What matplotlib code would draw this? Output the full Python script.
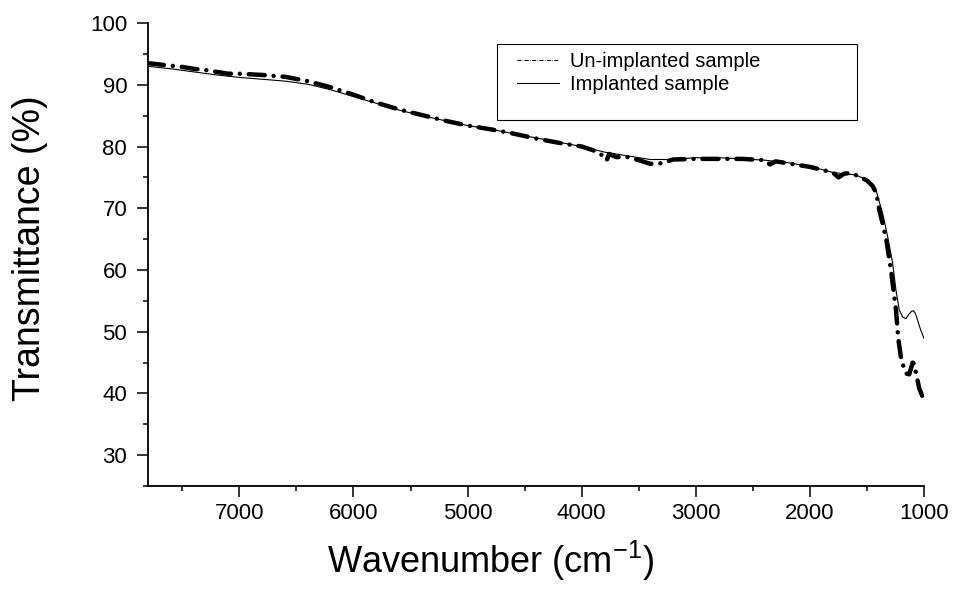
import matplotlib
matplotlib.use("Agg")
import matplotlib.pyplot as plt
from matplotlib.patches import Rectangle
from matplotlib.ticker import MultipleLocator

plt.rcParams["font.family"] = ["Liberation Sans", "DejaVu Sans"]

# Un-implanted sample (thick dash-dot)
wn_un = [7800, 7700, 7600, 7500, 7400, 7300, 7200, 7100, 7000, 6800, 6600, 6400,
         6200, 6000, 5800, 5600, 5400, 5200, 5000, 4800, 4600, 4400, 4200, 4000,
         3900, 3850, 3800, 3780, 3760, 3700, 3600, 3500, 3400, 3300, 3200, 3000,
         2800, 2600, 2400, 2350, 2300, 2200, 2000, 1800, 1750, 1700, 1650, 1600,
         1500, 1450, 1418, 1392, 1360, 1330, 1290, 1246, 1226, 1203, 1175, 1153,
         1130, 1100, 1086, 1065, 1042, 1007, 1000]
tr_un = [93.5, 93.3, 93.1, 92.9, 92.6, 92.4, 92.1, 91.8, 91.8, 91.6, 91.3, 90.6,
         89.6, 88.4, 87.1, 86.0, 85.1, 84.2, 83.4, 82.8, 82.1, 81.3, 80.6, 80.0,
         79.4, 78.8, 78.5, 77.8, 78.8, 78.3, 78.3, 77.8, 77.2, 77.3, 77.9, 78.0,
         78.0, 78.0, 77.8, 77.1, 77.6, 77.3, 76.7, 75.8, 75.0, 75.6, 75.7, 75.4,
         74.5, 73.6, 72.4, 69.7, 67.3, 64.8, 60.0, 53.5, 48.9, 45.9, 44.0, 43.2,
         43.1, 45.0, 44.8, 42.8, 40.8, 39.2, 38.9]

# Implanted sample (thin solid)
wn_im = [7800, 7600, 7400, 7200, 7000, 6800, 6600, 6400, 6200, 6000, 5800, 5600,
         5400, 5200, 5000, 4800, 4600, 4400, 4200, 4000, 3800, 3600, 3400, 3200,
         3000, 2800, 2600, 2400, 2200, 2000, 1800, 1700, 1600, 1500, 1450, 1418,
         1392, 1363, 1319, 1275, 1246, 1217, 1188, 1159, 1130, 1110, 1092, 1075,
         1057, 1030, 1000]
tr_im = [93.0, 92.6, 92.1, 91.6, 91.2, 90.9, 90.6, 90.1, 89.2, 88.1, 87.0, 85.9,
         85.0, 84.2, 83.4, 82.8, 82.1, 81.4, 80.7, 80.0, 79.1, 78.5, 77.9, 77.9,
         78.2, 78.2, 78.0, 77.8, 77.4, 76.8, 75.8, 75.6, 75.4, 74.6, 73.8, 72.8,
         71.0, 69.2, 65.4, 61.1, 56.7, 53.5, 52.4, 52.1, 52.9, 53.3, 53.4, 52.9,
         51.9, 50.3, 48.9]

fig = plt.figure(figsize=(9.55, 5.92), dpi=100)
ax = fig.add_axes([0.155, 0.179, 0.8126, 0.782])

ax.plot(wn_im, tr_im, color="black", lw=0.8, label="Implanted sample", zorder=2)
ax.plot(wn_un, tr_un, color="black", lw=3.2, dashes=(3.6, 2.0, 0.01, 2.0),
        dash_capstyle="round", label="Un-implanted sample", zorder=3)

ax.set_xlim(7800, 1000)
ax.set_ylim(25, 100)
ax.xaxis.set_major_locator(MultipleLocator(1000))
ax.xaxis.set_minor_locator(MultipleLocator(500))
ax.yaxis.set_major_locator(MultipleLocator(10))
ax.yaxis.set_minor_locator(MultipleLocator(5))
ax.set_yticks(range(30, 101, 10))

for s in ["top", "right"]:
    ax.spines[s].set_visible(False)
for s in ["left", "bottom"]:
    ax.spines[s].set_linewidth(1.3)

ax.tick_params(axis="both", which="major", direction="out", width=1.1, labelsize=16)
ax.tick_params(axis="y", which="major", length=8, pad=7)
ax.tick_params(axis="x", which="major", length=8, pad=4.5)
ax.tick_params(axis="both", which="minor", direction="out", width=1.1, length=3.8)

ax.set_ylabel("Transmittance (%)", fontsize=27)
ax.yaxis.set_label_coords(-0.129, 0.514)
ax.set_xlabel("Wavenumber (cm$^{\\mathregular{-1}}$)", fontsize=26)
ax.xaxis.set_label_coords(0.442, -0.113)

h_un, h_im = ax.get_legend_handles_labels()[0][::-1]
leg = ax.legend([h_un, h_im], ["Un-implanted sample", "Implanted sample"],
                loc="upper left", bbox_to_anchor=(0.4755, 0.938), frameon=False,
                fontsize=14.5, borderpad=0, borderaxespad=0, handlelength=2.1,
                handletextpad=0.55, labelspacing=0.22)
leg.get_lines()[0].set_linewidth(0.7)
ax.add_patch(Rectangle((0.4497, 0.7905), 0.4639, 0.1641, transform=ax.transAxes,
                       fill=False, edgecolor="black", lw=0.8, zorder=5))

fig.savefig("out.png", dpi=100)
